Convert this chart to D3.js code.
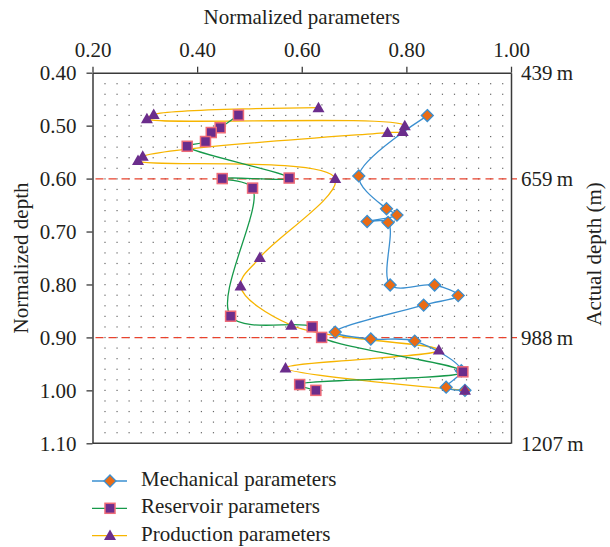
<!DOCTYPE html>
<html>
<head>
<meta charset="utf-8">
<script src="https://cdn.jsdelivr.net/npm/d3@7"></script>
<style>
  body { margin: 0; background: #fff; }
</style>
</head>
<body>
<div id="chart"></div>
<script>
// normalized parameter (x) vs normalized depth (y)
var mechX = [0.840, 0.709, 0.762, 0.782, 0.725, 0.765, 0.769, 0.854, 0.899, 0.833, 0.664, 0.732, 0.816, 0.905, 0.876, 0.912];
var mechY = [0.481, 0.595, 0.657, 0.669, 0.681, 0.683, 0.801, 0.801, 0.821, 0.839, 0.890, 0.903, 0.907, 0.963, 0.994, 1.000];

var resX = [0.479, 0.444, 0.427, 0.416, 0.381, 0.576, 0.448, 0.506, 0.464, 0.620, 0.638, 0.908, 0.596, 0.627];
var resY = [0.480, 0.504, 0.513, 0.530, 0.539, 0.599, 0.600, 0.618, 0.860, 0.880, 0.900, 0.965, 0.989, 1.000];

var prodX = [0.632, 0.317, 0.304, 0.797, 0.793, 0.764, 0.296, 0.287, 0.664, 0.520, 0.483, 0.580, 0.862, 0.569, 0.912];
var prodY = [0.466, 0.479, 0.487, 0.500, 0.511, 0.513, 0.558, 0.566, 0.600, 0.749, 0.803, 0.877, 0.924, 0.958, 1.000];

var xTicks = [0.2, 0.4, 0.6, 0.8, 1.0];
var yTicks = [0.4, 0.5, 0.6, 0.7, 0.8, 0.9, 1.0, 1.1];
var depthTicks = [439, 659, 988, 1207];
var markLines = [659, 988];

var seriesNames = ["Mechanical parameters", "Reservoir parameters", "Production parameters"];

var width = 610, height = 547;
var m = {left: 92.5, top: 72.7, right: 99, bottom: 103.7};
var w = width - m.left - m.right;
var h = height - m.top - m.bottom;
var font = "'Liberation Serif', 'Times New Roman', serif";
var fs = "21px";

var svg = d3.select("#chart").append("svg")
  .attr("width", width).attr("height", height);

var x = d3.scaleLinear().domain([0.2, 1.0]).range([0, w]);
var y = d3.scaleLinear().domain([0.4, 1.1]).range([0, h]);
var yr = d3.scaleLinear().domain([439, 1207]).range([0, h]);

var g = svg.append("g").attr("transform", "translate(" + m.left + "," + m.top + ")");

// dotted background
var dx = d3.scaleLinear().domain([0, 33]).range([12.5, w - 8.3]);
var dy = d3.scaleLinear().domain([0, 33]).range([11, h - 10.6]);
var idx = d3.range(34);
var dots = [];
idx.forEach(function(i) { idx.forEach(function(j) { dots.push([i, j]); }); });
g.append("g").selectAll("rect").data(dots).enter().append("rect")
  .attr("x", function(d) { return dx(d[0]) - 0.6; })
  .attr("y", function(d) { return dy(d[1]) - 0.6; })
  .attr("width", 1.2).attr("height", 1.2)
  .attr("fill", "#666");

// red dashed depth markers
g.selectAll(".mark").data(markLines).enter().append("line")
  .attr("class", "mark")
  .attr("x1", 3).attr("x2", w + 6)
  .attr("y1", function(d) { return yr(d); })
  .attr("y2", function(d) { return yr(d); })
  .attr("stroke", "#e8432e").attr("stroke-width", 1.3)
  .attr("stroke-dasharray", "8,5");

// axes
var axisColor = "#3a3a3a";
function styleAxis(sel) {
  sel.selectAll("path").attr("stroke", axisColor).attr("stroke-width", 1.5);
  sel.selectAll("line").attr("stroke", axisColor).attr("stroke-width", 1.3);
  sel.selectAll("text").style("font-size", fs).style("font-family", font).attr("fill", "#231f20");
}

g.append("g")
  .call(d3.axisTop(x).tickValues(xTicks).tickFormat(d3.format(".2f")).tickSize(6).tickSizeOuter(0).tickPadding(10))
  .call(styleAxis);

g.append("g")
  .call(d3.axisLeft(y).tickValues(yTicks).tickFormat(d3.format(".2f")).tickSize(6).tickSizeOuter(0).tickPadding(10))
  .call(styleAxis);

g.append("g")
  .attr("transform", "translate(" + w + ",0)")
  .call(d3.axisRight(yr).tickValues(depthTicks).tickFormat(function(d) { return d + "\u2009m"; }).tickSize(0).tickSizeOuter(0).tickPadding(10))
  .call(styleAxis);

g.append("line").attr("x1", 0).attr("x2", w).attr("y1", h).attr("y2", h)
  .attr("stroke", axisColor).attr("stroke-width", 1.5);

// axis titles
function title(sel) {
  sel.attr("text-anchor", "middle").style("font-size", fs).style("font-family", font).attr("fill", "#231f20");
}
svg.append("text").attr("x", m.left + w / 2).attr("y", 24)
  .call(title).text("Normalized parameters");
svg.append("text")
  .attr("transform", "translate(27.5," + (m.top + h / 2) + ") rotate(-90)")
  .call(title).text("Normalized depth");
svg.append("text")
  .attr("transform", "translate(601," + (m.top + h / 2 - 4) + ") rotate(-90)")
  .call(title).text("Actual depth (m)");

// series
var line = d3.line()
  .x(function(d) { return x(d[0]); })
  .y(function(d) { return y(d[1]); })
  .curve(d3.curveCatmullRom.alpha(0.5));

var mech = d3.zip(mechX, mechY);
var res = d3.zip(resX, resY);
var prod = d3.zip(prodX, prodY);

var colors = {mech: "#3a8fd0", res: "#16994a", prod: "#f7b500"};

function diamond(sel) {
  sel.append("path").attr("d", "M0,-6L6,0L0,6L-6,0Z")
    .attr("fill", "#ea6b14").attr("stroke", "#3a8fd0").attr("stroke-width", 1.3);
}
function square(sel) {
  sel.append("rect").attr("x", -5).attr("y", -5).attr("width", 10).attr("height", 10)
    .attr("fill", "#6b2d8c").attr("stroke", "#ee6b78").attr("stroke-width", 1.5);
}
function triangle(sel) {
  sel.append("path").attr("d", "M0,-6L6,4.5L-6,4.5Z").attr("fill", "#6b2d8c");
}

g.append("path").attr("d", line(prod)).attr("fill", "none").attr("stroke", colors.prod).attr("stroke-width", 1.3);
g.append("path").attr("d", line(res)).attr("fill", "none").attr("stroke", colors.res).attr("stroke-width", 1.3);
g.append("path").attr("d", line(mech)).attr("fill", "none").attr("stroke", colors.mech).attr("stroke-width", 1.3);

g.append("g").selectAll("g").data(mech).enter().append("g")
  .attr("transform", function(d) { return "translate(" + x(d[0]) + "," + y(d[1]) + ")"; })
  .call(diamond);
g.append("g").selectAll("g").data(res).enter().append("g")
  .attr("transform", function(d) { return "translate(" + x(d[0]) + "," + y(d[1]) + ")"; })
  .call(square);
g.append("g").selectAll("g").data(prod).enter().append("g")
  .attr("transform", function(d) { return "translate(" + x(d[0]) + "," + y(d[1]) + ")"; })
  .call(triangle);

// legend
var legend = svg.append("g").attr("transform", "translate(92,481)");
var markers = [diamond, square, triangle];
var lcols = [colors.mech, colors.res, colors.prod];
seriesNames.forEach(function(name, i) {
  var row = legend.append("g").attr("transform", "translate(0," + (i * 27.3) + ")");
  row.append("line").attr("x1", 0).attr("x2", 35).attr("stroke", lcols[i]).attr("stroke-width", 1.3);
  row.append("g").attr("transform", "translate(18,0)").call(markers[i]);
  row.append("text").attr("x", 49).attr("y", 0).attr("dy", "0.24em")
    .style("font-size", fs).style("font-family", font).attr("fill", "#231f20").text(name);
});
</script>
</body>
</html>
